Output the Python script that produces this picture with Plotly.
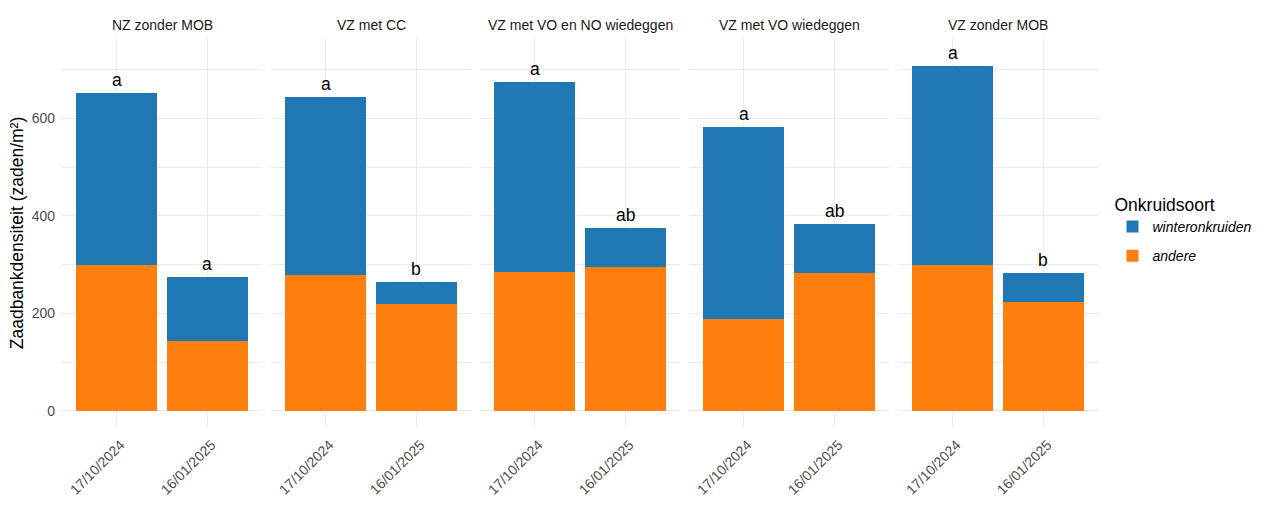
import plotly.graph_objects as go
from plotly.subplots import make_subplots

facets = ["NZ zonder MOB", "VZ met CC", "VZ met VO en NO wiedeggen",
          "VZ met VO wiedeggen", "VZ zonder MOB"]
dates = ["17/10/2024", "16/01/2025"]
andere = [[299, 144], [279, 219], [284, 295], [189, 283], [299, 224]]
winteronkruiden = [[354, 130], [365, 46], [390, 80], [393, 100], [409, 59]]
letters = [["a", "a"], ["a", "b"], ["a", "ab"], ["a", "ab"], ["a", "b"]]
y_ticks = [0, 200, 400, 600]

COL_W = "#1F77B4"
COL_A = "#FF7F0E"
FONT = "Liberation Sans, Arial, sans-serif"
GRID = "#EBEBEB"

W, H = 1280, 508
ml, mr, mt, mb = 62, 182, 38, 80
pw = W - ml - mr

fig = make_subplots(rows=1, cols=5, shared_yaxes=True,
                    horizontal_spacing=9 / pw)

for i, name in enumerate(facets):
    col = i + 1
    fig.add_trace(go.Bar(x=dates, y=andere[i], name="andere", marker_color=COL_A,
                         marker_line_width=0, width=0.9, legendgroup="andere",
                         legendrank=2, showlegend=(i == 0)), row=1, col=col)
    fig.add_trace(go.Bar(x=dates, y=winteronkruiden[i], name="winteronkruiden",
                         marker_color=COL_W, marker_line_width=0, width=0.9,
                         legendgroup="winter", legendrank=1,
                         showlegend=(i == 0)), row=1, col=col)
    xref = "x" if col == 1 else f"x{col}"
    yref = "y" if col == 1 else f"y{col}"
    for j, d in enumerate(dates):
        tot = andere[i][j] + winteronkruiden[i][j]
        fig.add_annotation(x=d, y=tot, xref=xref, yref=yref, text=letters[i][j],
                           showarrow=False, xanchor="center", yanchor="bottom",
                           yshift=1,
                           font=dict(family=FONT, size=17.5, color="black"))
    # strip title
    dom = fig.layout[f"xaxis{'' if col == 1 else col}"].domain
    fig.add_annotation(x=(dom[0] + dom[1]) / 2, y=1 + 13 / (H - mt - mb),
                       xref="paper", yref="paper", text=name, showarrow=False,
                       xanchor="center", yanchor="middle",
                       font=dict(family=FONT, size=14, color="#1A1A1A"))

fig.update_xaxes(range=[-0.6, 1.6], showgrid=True, gridcolor=GRID, gridwidth=1,
                 tickangle=-45, showline=False, zeroline=False, ticks="",
                 ticklabelstandoff=5, ticklabelshift=4, automargin=False,
                 tickfont=dict(family=FONT, size=14, color="#4D4D4D"))
fig.update_yaxes(range=[-35, 765], showgrid=True, gridcolor=GRID, gridwidth=1,
                 tickvals=y_ticks, zeroline=False, showline=False, ticks="",
                 automargin=False,
                 minor=dict(tickvals=[100, 300, 500, 700], showgrid=True,
                            gridcolor=GRID, gridwidth=1),
                 tickfont=dict(family=FONT, size=14, color="#4D4D4D"))
fig.update_yaxes(title=dict(text="Zaadbankdensiteit (zaden/m²)", standoff=3,
                            font=dict(family=FONT, size=17.5, color="black")),
                 ticklabelstandoff=6, row=1, col=1)

fig.update_layout(
    width=W, height=H, barmode="stack",
    margin=dict(l=ml, r=mr, t=mt, b=mb),
    plot_bgcolor="white", paper_bgcolor="white",
    font=dict(family=FONT),
    legend=dict(title=dict(text="Onkruidsoort",
                           font=dict(family=FONT, size=17.5, color="black",
                                     style="normal")),
                traceorder="grouped", x=1.014, xanchor="left", y=0.615,
                yanchor="top", font=dict(family=FONT, size=14, color="black",
                                         style="italic"),
                itemwidth=30, tracegroupgap=8),
    bargap=0.1,
)

fig.write_html("out.html")
